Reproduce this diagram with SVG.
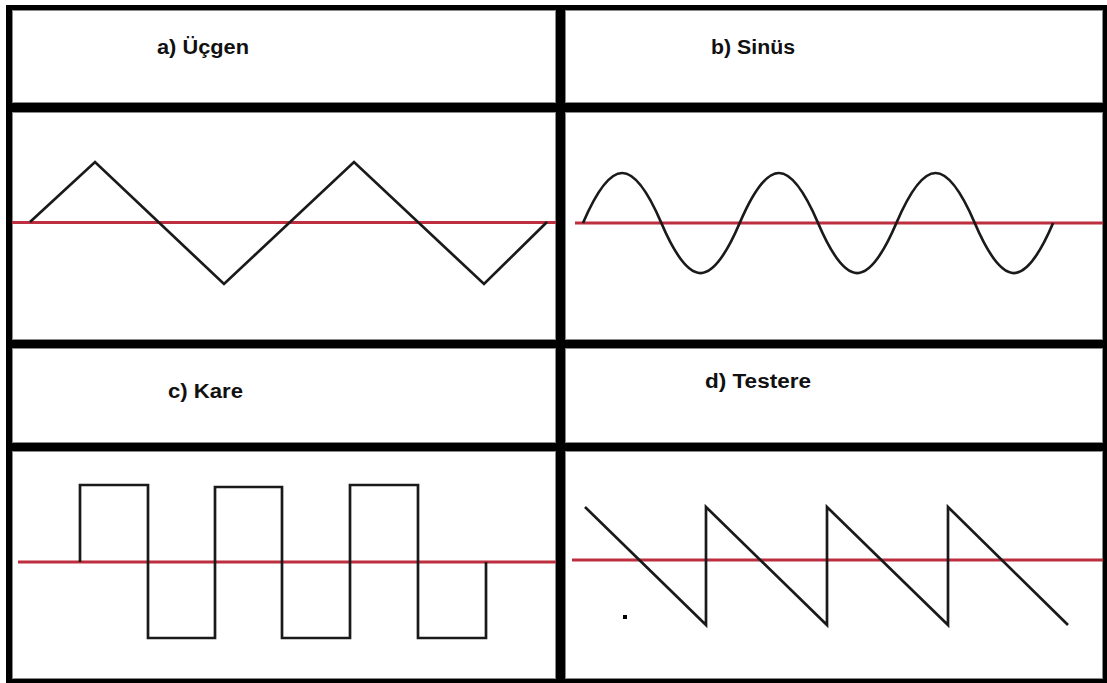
<svg xmlns="http://www.w3.org/2000/svg" width="1107" height="683" viewBox="0 0 1107 683">
<style>
.panel{fill:#ffffff;stroke:#8a8a8a;stroke-width:1}
.wave{fill:none;stroke:#1a1a1a;stroke-width:2.7;stroke-linejoin:miter}
.axis{stroke:#bd2f3e;stroke-width:3.2}
.label{font-family:"Liberation Sans",Arial,sans-serif;font-weight:bold;font-size:20px;fill:#111}
</style>
<rect x="0" y="0" width="1107" height="683" fill="#ffffff"/>
<rect id="frame" x="6" y="5" width="1101" height="678" fill="#000000"/>
<g id="panel-a">
  <rect class="panel" x="12.5" y="10.5" width="543" height="92"/>
  <rect class="panel" x="12.5" y="112.5" width="543" height="227"/>
  <text class="label" x="157" y="54" textLength="92" lengthAdjust="spacingAndGlyphs">a) Üçgen</text>
  <line class="axis" x1="12" y1="222.5" x2="556" y2="222.5"/>
  <polyline class="wave" points="30,222 95,162 224,284 354,162 484,284 547,222"/>
</g>
<g id="panel-b">
  <rect class="panel" x="565.5" y="10.5" width="537" height="92"/>
  <rect class="panel" x="565.5" y="112.5" width="537" height="227"/>
  <text class="label" x="711" y="54" textLength="84" lengthAdjust="spacingAndGlyphs">b) Sinüs</text>
  <line class="axis" x1="575" y1="223" x2="1103" y2="223"/>
  <path class="wave" d="M583,223 C611.5,156.3 632.85,156.3 661.35,223 S711.2,289.7 739.7,223 S789.55,156.3 818.05,223 S867.9,289.7 896.4,223 S946.25,156.3 974.75,223 S1024.6,289.7 1053.1,223"/>
</g>
<g id="panel-c">
  <rect class="panel" x="12.5" y="348.5" width="543" height="94"/>
  <rect class="panel" x="12.5" y="451.5" width="543" height="227"/>
  <text class="label" x="168" y="398" textLength="75" lengthAdjust="spacingAndGlyphs">c) Kare</text>
  <line class="axis" x1="18" y1="562" x2="556" y2="562"/>
  <path class="wave" d="M80,562 V485 H148 V638 H215 V487 H282 V638 H350 V485 H418 V638 H486 V562"/>
</g>
<g id="panel-d">
  <rect class="panel" x="565.5" y="348.5" width="537" height="94"/>
  <rect class="panel" x="565.5" y="451.5" width="537" height="227"/>
  <text class="label" x="705" y="388" textLength="106" lengthAdjust="spacingAndGlyphs">d) Testere</text>
  <line class="axis" x1="572" y1="560" x2="1103" y2="560"/>
  <polyline class="wave" points="585,507 706,625 706,507 827,625 827,507 948,625 948,507 1068,625"/>
  <rect x="623" y="615" width="4" height="4" fill="#000"/>
</g>
</svg>
